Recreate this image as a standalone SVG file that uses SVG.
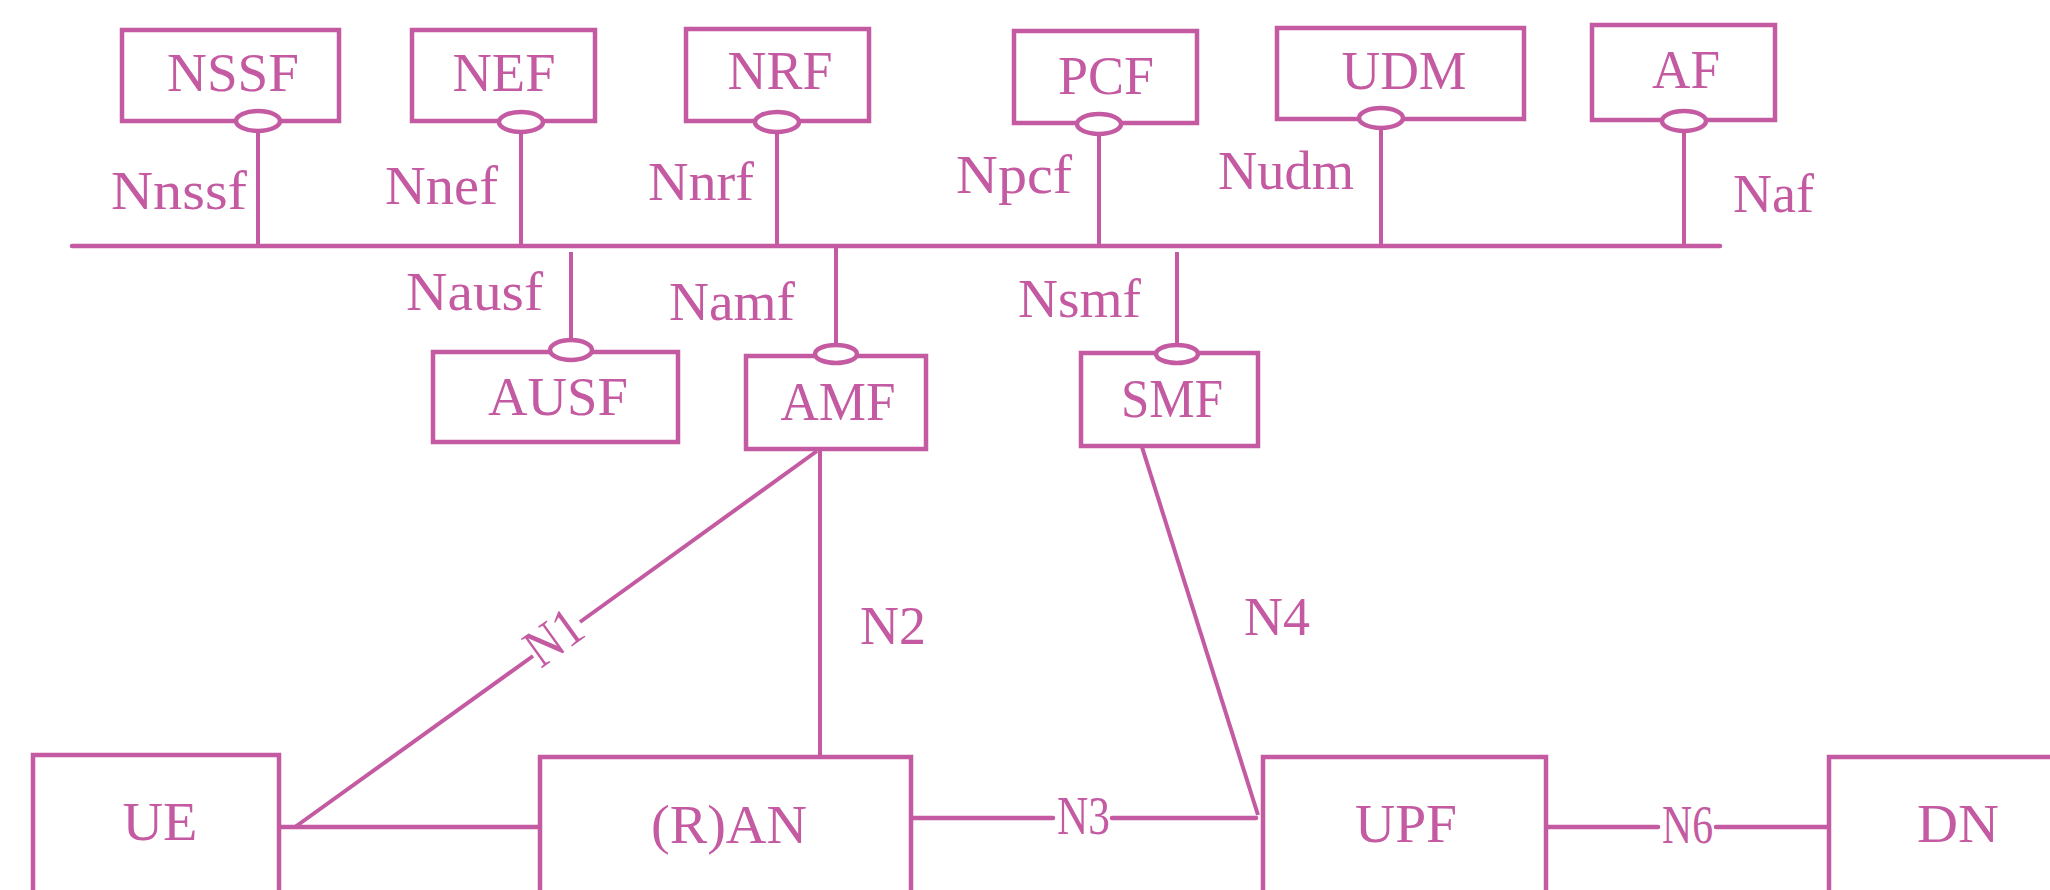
<svg xmlns="http://www.w3.org/2000/svg" width="2050" height="890" viewBox="0 0 2050 890">
<style>
.box{fill:#ffffff;stroke:#c45aa1;stroke-width:4.5}
.ell{fill:#ffffff;stroke:#c45aa1;stroke-width:4.5}
.ln{fill:none;stroke:#c45aa1;stroke-width:4.5;stroke-linecap:round}
.thin{fill:none;stroke:#c45aa1;stroke-width:4}
.t{font-family:"Liberation Serif","Times New Roman",serif;font-size:55px;fill:#c45aa1;text-anchor:middle}
.l{font-family:"Liberation Serif","Times New Roman",serif;font-size:55px;fill:#c45aa1}
</style>
<rect width="2050" height="890" fill="#ffffff"/>
<g id="connectors">
  <line class="ln" x1="72" y1="246" x2="1720" y2="246"/>
  <line class="thin" x1="258" y1="132" x2="258" y2="246"/>
  <line class="thin" x1="521" y1="132" x2="521" y2="246"/>
  <line class="thin" x1="777" y1="132" x2="777" y2="246"/>
  <line class="thin" x1="1099" y1="134" x2="1099" y2="246"/>
  <line class="thin" x1="1381" y1="129" x2="1381" y2="246"/>
  <line class="thin" x1="1684" y1="131" x2="1684" y2="246"/>
  <line class="thin" x1="571" y1="252" x2="571" y2="340"/>
  <line class="thin" x1="836" y1="246" x2="836" y2="345"/>
  <line class="thin" x1="1177" y1="252" x2="1177" y2="345"/>
  <line class="thin" x1="295" y1="827" x2="533" y2="656"/>
  <line class="thin" x1="580" y1="622" x2="817" y2="451"/>
  <line class="thin" x1="820" y1="451" x2="820" y2="755"/>
  <line class="thin" x1="1142" y1="447" x2="1258" y2="815"/>
  <line class="ln" x1="279" y1="827" x2="540" y2="827"/>
  <line class="ln" x1="911" y1="818" x2="1053" y2="818"/>
  <line class="ln" x1="1112" y1="818" x2="1256" y2="818"/>
  <line class="ln" x1="1546" y1="827" x2="1658" y2="827"/>
  <line class="ln" x1="1716" y1="827" x2="1829" y2="827"/>
  <text class="l" x="111" y="209" textLength="136" lengthAdjust="spacingAndGlyphs">Nnssf</text>
  <text class="l" x="385" y="204" textLength="113" lengthAdjust="spacingAndGlyphs">Nnef</text>
  <text class="l" x="648" y="200" textLength="106" lengthAdjust="spacingAndGlyphs">Nnrf</text>
  <text class="l" x="956" y="193" textLength="116" lengthAdjust="spacingAndGlyphs">Npcf</text>
  <text class="l" x="1218" y="189" textLength="136" lengthAdjust="spacingAndGlyphs">Nudm</text>
  <text class="l" x="1733" y="212" textLength="81" lengthAdjust="spacingAndGlyphs">Naf</text>
  <text class="l" x="406" y="310" textLength="137" lengthAdjust="spacingAndGlyphs">Nausf</text>
  <text class="l" x="669" y="320" textLength="126" lengthAdjust="spacingAndGlyphs">Namf</text>
  <text class="l" x="1018" y="317" textLength="123" lengthAdjust="spacingAndGlyphs">Nsmf</text>
  <text class="l" x="860" y="644" textLength="66" lengthAdjust="spacingAndGlyphs">N2</text>
  <text class="l" x="1244" y="635" textLength="66" lengthAdjust="spacingAndGlyphs">N4</text>
  <text class="l" x="1057" y="834" font-size="52" textLength="53" lengthAdjust="spacingAndGlyphs">N3</text>
  <text class="l" x="1662" y="843" font-size="52" textLength="51" lengthAdjust="spacingAndGlyphs">N6</text>
  <text class="t" transform="translate(555,639) rotate(-35.7)" x="0" y="16" font-size="48" textLength="58" lengthAdjust="spacingAndGlyphs">N1</text>
</g>
<g id="NSSF"><rect class="box" x="122" y="30" width="217" height="91"/><ellipse class="ell" cx="258" cy="121" rx="22" ry="10"/><text class="t" x="233" y="91" textLength="132" lengthAdjust="spacingAndGlyphs">NSSF</text></g>
<g id="NEF"><rect class="box" x="412" y="30" width="183" height="91"/><ellipse class="ell" cx="521" cy="122" rx="22" ry="10"/><text class="t" x="504" y="91" textLength="103" lengthAdjust="spacingAndGlyphs">NEF</text></g>
<g id="NRF"><rect class="box" x="686" y="29" width="183" height="92"/><ellipse class="ell" cx="777" cy="122" rx="22" ry="10"/><text class="t" x="780" y="89" textLength="105" lengthAdjust="spacingAndGlyphs">NRF</text></g>
<g id="PCF"><rect class="box" x="1014" y="31" width="183" height="92"/><ellipse class="ell" cx="1099" cy="124" rx="22" ry="10"/><text class="t" x="1106" y="94" textLength="96" lengthAdjust="spacingAndGlyphs">PCF</text></g>
<g id="UDM"><rect class="box" x="1277" y="28" width="247" height="91"/><ellipse class="ell" cx="1381" cy="118" rx="22" ry="10"/><text class="t" x="1404" y="89" textLength="125" lengthAdjust="spacingAndGlyphs">UDM</text></g>
<g id="AF"><rect class="box" x="1592" y="25" width="183" height="95"/><ellipse class="ell" cx="1684" cy="121" rx="22" ry="10"/><text class="t" x="1686" y="88" textLength="68" lengthAdjust="spacingAndGlyphs">AF</text></g>
<g id="AUSF"><rect class="box" x="433" y="352" width="245" height="90"/><ellipse class="ell" cx="571" cy="350" rx="21" ry="10"/><text class="t" x="558" y="415" textLength="140" lengthAdjust="spacingAndGlyphs">AUSF</text></g>
<g id="AMF"><rect class="box" x="746" y="356" width="180" height="93"/><ellipse class="ell" cx="836" cy="354" rx="21" ry="9"/><text class="t" x="838" y="420" textLength="115" lengthAdjust="spacingAndGlyphs">AMF</text></g>
<g id="SMF"><rect class="box" x="1081" y="353" width="177" height="93"/><ellipse class="ell" cx="1177" cy="354" rx="21" ry="9"/><text class="t" x="1172" y="417" textLength="102" lengthAdjust="spacingAndGlyphs">SMF</text></g>
<g id="UE"><rect class="box" x="33" y="755" width="246" height="200"/><text class="t" x="160" y="840" textLength="75" lengthAdjust="spacingAndGlyphs">UE</text></g>
<g id="RAN"><rect class="box" x="540" y="757" width="371" height="200"/><text class="t" x="729" y="843" textLength="156" lengthAdjust="spacingAndGlyphs">(R)AN</text></g>
<g id="UPF"><rect class="box" x="1263" y="757" width="283" height="200"/><text class="t" x="1406" y="842" textLength="102" lengthAdjust="spacingAndGlyphs">UPF</text></g>
<g id="DN"><rect class="box" x="1829" y="757" width="300" height="200"/><text class="t" x="1958" y="842" textLength="82" lengthAdjust="spacingAndGlyphs">DN</text></g>
</svg>
